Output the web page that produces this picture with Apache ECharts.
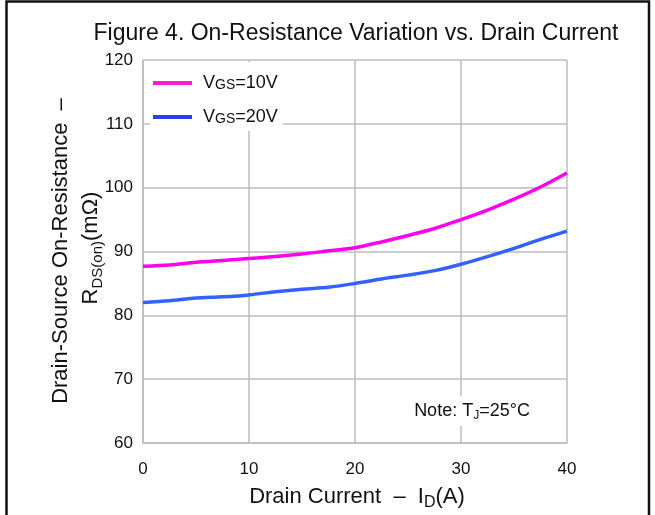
<!DOCTYPE html>
<html>
<head>
<meta charset="utf-8">
<script src="https://cdn.jsdelivr.net/npm/echarts@6/dist/echarts.min.js"></script>
<style>html,body{margin:0;padding:0;background:#fff;}#c{width:655px;height:515px;}</style>
</head>
<body>
<div id="c"></div>
<script>
const current = [0, 2.5, 5, 7.5, 10, 12.5, 15, 17.5, 20, 22.5, 25, 27.5, 30, 32.5, 35, 37.5, 40];
const vgs10 = [87.7, 87.9, 88.3, 88.6, 88.9, 89.2, 89.6, 90.1, 90.6, 91.5, 92.5, 93.6, 95.0, 96.5, 98.2, 100.1, 102.3];
const vgs20 = [82.0, 82.3, 82.7, 82.9, 83.2, 83.7, 84.1, 84.4, 85.0, 85.7, 86.3, 87.0, 88.0, 89.2, 90.5, 91.9, 93.2];
const seriesNames = ['VGS=10V', 'VGS=20V'];
const xTicks = [0, 10, 20, 30, 40];
const yTicks = [60, 70, 80, 90, 100, 110, 120];

const font = 'Arial, "Liberation Sans", sans-serif';
const chart = echarts.init(document.getElementById('c'));
const pair = (xs, ys) => xs.map((x, i) => [x, ys[i]]);
const gridColor = '#bdbdbd';

chart.setOption({
  animation: false,
  backgroundColor: '#fff',
  grid: { left: 143, right: 88, top: 60, bottom: 72 },
  xAxis: {
    type: 'value', min: xTicks[0], max: xTicks[xTicks.length - 1], interval: 10,
    axisLine: { show: true, lineStyle: { color: gridColor, width: 1.5 } },
    axisTick: { show: false },
    splitLine: { show: true, lineStyle: { color: gridColor, width: 1.5 } },
    axisLabel: { color: '#111', fontSize: 17, fontFamily: font, margin: 18 }
  },
  yAxis: {
    type: 'value', min: yTicks[0], max: yTicks[yTicks.length - 1], interval: 10,
    axisLine: { show: true, lineStyle: { color: gridColor, width: 1.5 } },
    axisTick: { show: false },
    splitLine: { show: true, lineStyle: { color: gridColor, width: 1.5 } },
    axisLabel: { color: '#111', fontSize: 17, fontFamily: font, margin: 10 }
  },
  legend: {
    orient: 'vertical', left: 150, top: 62,
    backgroundColor: '#fff',
    padding: [11, 5, 4, 3],
    itemGap: 14, itemWidth: 39, itemHeight: 4, icon: 'rect',
    data: [
      { name: seriesNames[0], itemStyle: { color: '#ff1cd2' } },
      { name: seriesNames[1], itemStyle: { color: '#2a40f0' } }
    ],
    formatter: n => '{v|V}{s|GS}{v|' + n.slice(3) + '}',
    textStyle: {
      lineHeight: 20, padding: [0, 0, 0, 6],
      rich: {
        v: { fontSize: 18, fontFamily: font, color: '#111', lineHeight: 20 },
        s: { fontSize: 14, fontFamily: font, color: '#111', lineHeight: 20, verticalAlign: 'bottom', padding: [0, 0, 1, 0] }
      }
    }
  },
  series: [
    { name: seriesNames[0], type: 'line', data: pair(current, vgs10), smooth: 0.3, symbol: 'none',
      lineStyle: { color: '#ff00ee', width: 3.5 }, itemStyle: { color: '#ff00ee' }, z: 3 },
    { name: seriesNames[1], type: 'line', data: pair(current, vgs20), smooth: 0.3, symbol: 'none',
      lineStyle: { color: '#3361ff', width: 3.5 }, itemStyle: { color: '#3361ff' }, z: 3 }
  ],
  graphic: [
    { type: 'rect', shape: { x: 6.5, y: 1.5, width: 642.5, height: 540 }, style: { fill: 'none', stroke: '#111', lineWidth: 2.5 }, z: 100 },
    { type: 'text', style: { text: 'Figure 4. On-Resistance Variation vs. Drain Current', x: 356, y: 34, align: 'center', verticalAlign: 'middle', font: '23px ' + font, fill: '#111' } },
    { type: 'text', style: {
        text: '{a|Drain Current  –  I}{b|D}{a|(A)}', x: 357, y: 497, align: 'center', verticalAlign: 'middle',
        rich: { a: { fontSize: 22, fontFamily: font, fill: '#111' }, b: { fontSize: 16, fontFamily: font, fill: '#111', verticalAlign: 'bottom', padding: [0, 0, -3, 0] } } } },
    { type: 'text', x: 61, y: 251, rotation: Math.PI / 2, style: {
        text: 'Drain-Source On-Resistance  –', x: 0, y: 0, align: 'center', verticalAlign: 'middle', font: '22px ' + font, fill: '#111' } },
    { type: 'text', x: 91, y: 248, rotation: Math.PI / 2, style: {
        text: '{a|R}{b|DS(on)}{a|(mΩ)}', x: 0, y: 0, align: 'center', verticalAlign: 'middle',
        rich: { a: { fontSize: 22, fontFamily: font, fill: '#111' }, b: { fontSize: 15, fontFamily: font, fill: '#111', verticalAlign: 'bottom', padding: [0, 0, -3, 0] } } } },
    { type: 'text', z: 50, style: {
        text: '{a|Note: T}{b|J}{a|=25°C}', x: 472, y: 411, align: 'center', verticalAlign: 'middle',
        backgroundColor: '#fff', padding: [6, 2, 6, 2],
        rich: { a: { fontSize: 18, fontFamily: font, fill: '#111' }, b: { fontSize: 12, fontFamily: font, fill: '#111', verticalAlign: 'bottom', padding: [0, 0, -2, 0] } } } }
  ]
});
</script>
</body>
</html>
